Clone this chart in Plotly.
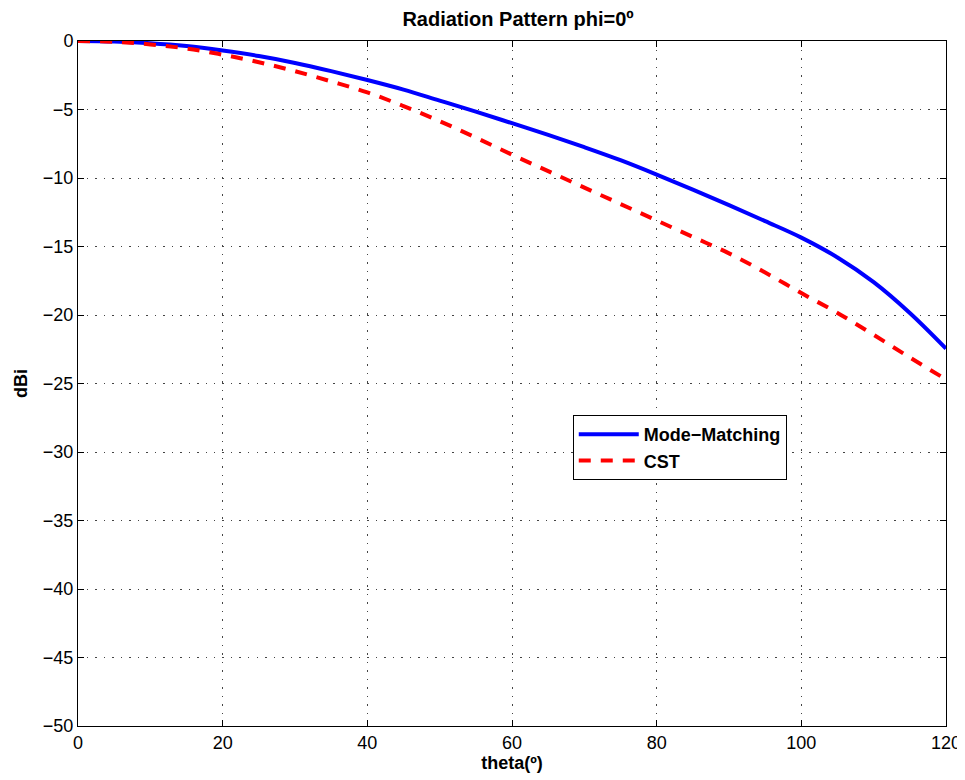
import plotly.graph_objects as go

theta_mm = [0, 5, 10, 15, 20, 25, 30, 35, 40, 45, 50, 55, 60, 65, 70, 75, 80, 85, 90, 95, 100, 105, 110, 115, 120]
gain_mm = [0, -0.04, -0.16, -0.37, -0.7, -1.1, -1.6, -2.2, -2.85, -3.55, -4.35, -5.15, -6.0, -6.85, -7.75, -8.7, -9.75, -10.85, -11.98, -13.15, -14.35, -15.8, -17.6, -19.85, -22.45]

theta_cst = [0, 5, 10, 15, 20, 25, 30, 35, 40, 45, 50, 55, 60, 65, 70, 75, 80, 85, 90, 95, 100, 105, 110, 115, 120]
gain_cst = [0, -0.06, -0.25, -0.55, -1.0, -1.55, -2.2, -2.95, -3.75, -4.75, -5.85, -7.05, -8.3, -9.5, -10.7, -11.9, -13.1, -14.3, -15.5, -16.9, -18.4, -19.85, -21.45, -23.1, -24.7]

x_ticks = [0, 20, 40, 60, 80, 100, 120]
y_ticks = [0, -5, -10, -15, -20, -25, -30, -35, -40, -45, -50]

W, H = 957, 772

fig = go.Figure()
fig.add_trace(go.Scatter(x=theta_mm, y=gain_mm, mode="lines", name="<b>Mode\u2212Matching</b>",
                         line=dict(color="#0000ff", width=4, shape="spline", smoothing=1.0)))
fig.add_trace(go.Scatter(x=theta_cst, y=gain_cst, mode="lines", name="<b>CST</b>",
                         line=dict(color="#ff0000", width=4, dash="12px,10px", shape="spline", smoothing=1.0)))

axis_common = dict(showline=True, linecolor="black", linewidth=1, mirror="ticks",
                   ticks="inside", ticklen=6, tickcolor="black",
                   showgrid=True, gridcolor="#444444", griddash="1.5px,7px", gridwidth=1,
                   zeroline=False, tickfont=dict(size=18, color="black"),
                   automargin=False, ticklabeloverflow="allow")

fig.update_layout(
    width=W, height=H,
    paper_bgcolor="white", plot_bgcolor="white",
    font=dict(family="Liberation Sans, Arial, sans-serif", color="black"),
    margin=dict(l=70, r=19, t=33, b=54),
    title=dict(text="<b>Radiation Pattern phi=0º</b>", x=510 / W, xanchor="center",
               y=1 - 11 / H, yanchor="middle", font=dict(size=20)),
    xaxis=dict(range=[0, 120], tickvals=x_ticks,
               title=dict(text="<b>theta(º)</b>", font=dict(size=18), standoff=2), **axis_common),
    yaxis=dict(range=[-50, 0], tickvals=y_ticks,
               title=dict(text="<b>dBi</b>", font=dict(size=18), standoff=10), **axis_common),
    legend=dict(x=0.570, y=0.454, xanchor="left", yanchor="top",
                bgcolor="white", bordercolor="black", borderwidth=1,
                font=dict(size=18, color="black"), itemwidth=60,
                tracegroupgap=0),
    showlegend=True,
)

fig.write_html("out.html")
